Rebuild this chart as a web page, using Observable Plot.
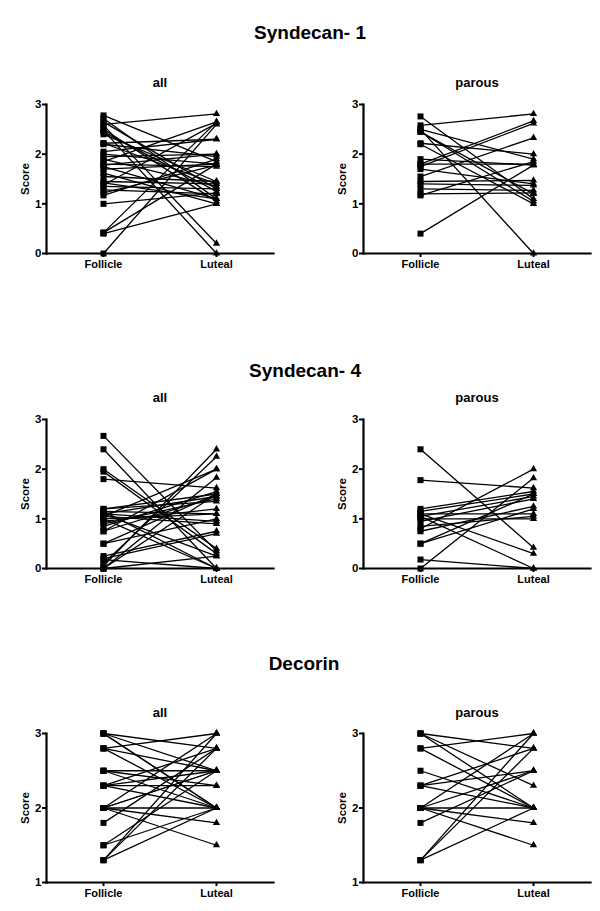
<!DOCTYPE html>
<html>
<head>
<meta charset="utf-8">
<script src="https://cdn.jsdelivr.net/npm/d3@7"></script>
<script src="https://cdn.jsdelivr.net/npm/@observablehq/plot@0.6"></script>
<style>
  html, body { margin: 0; padding: 0; background: #fff; }
  body { width: 600px; height: 911px; position: relative; overflow: hidden;
         font-family: "Liberation Sans", Arial, Helvetica, sans-serif; }
  .t { position: absolute; font-weight: bold; line-height: 1; white-space: nowrap; transform: translateX(-50%); color: #000; }
  .panel { position: absolute; }
  .panel svg { overflow: visible; }
</style>
</head>
<body>
<script>
// ---------- data ----------
const phases = ["Follicle", "Luteal"];
const rowTitles = ["Syndecan- 1", "Syndecan- 4", "Decorin"];
const groupTitles = ["all", "parous"];
const yLabel = "Score";
const ticks01 = [0, 1, 2, 3];
const ticksDecorin = [1, 2, 3];

// Syndecan-1, all
const syn1AllFollicle = [2.78, 2.72, 2.65, 2.60, 2.58, 2.50, 2.48, 2.45, 2.40, 2.22, 2.22, 2.20, 2.05, 2.00, 1.95, 1.90, 1.85, 1.80, 1.78, 1.75, 1.70, 1.62, 1.55, 1.45, 1.42, 1.38, 1.35, 1.28, 1.22, 1.17, 1.00, 0.42, 0.42, 0.40, 0.00];
const syn1AllLuteal   = [1.85, 1.10, 1.30, 2.81, 0.20, 1.05, 0.00, 1.25, 1.45, 2.30, 1.40, 1.95, 2.30, 1.80, 2.00, 1.35, 2.65, 1.75, 2.00, 1.10, 1.80, 1.00, 1.45, 1.40, 1.10, 2.62, 1.30, 1.20, 1.78, 1.90, 1.22, 2.65, 1.80, 1.00, 2.60];
// Syndecan-1, parous
const syn1ParFollicle = [2.76, 2.58, 2.50, 2.50, 2.45, 2.45, 2.22, 2.20, 1.80, 1.75, 1.90, 1.80, 1.70, 1.55, 1.45, 1.40, 1.30, 1.20, 1.17, 0.40];
const syn1ParLuteal   = [1.10, 2.81, 0.00, 1.90, 1.20, 1.05, 2.00, 1.00, 2.67, 2.62, 1.78, 1.80, 1.40, 2.33, 1.47, 1.37, 1.27, 1.22, 1.85, 1.78];
// Syndecan-4, all
const syn4AllFollicle = [2.67, 2.40, 2.00, 1.95, 1.80, 1.20, 1.15, 1.10, 1.10, 1.05, 1.00, 1.00, 0.95, 0.90, 0.85, 0.75, 0.75, 0.50, 0.50, 0.25, 0.18, 0.10, 0.05, 0.00, 0.00, 0.00, 1.10, 1.20, 1.05, 1.15, 0.20];
const syn4AllLuteal   = [0.35, 0.00, 0.40, 0.30, 1.62, 1.50, 0.00, 1.45, 0.25, 2.00, 1.10, 0.00, 1.20, 1.40, 1.55, 1.45, 2.00, 1.00, 1.50, 0.75, 0.00, 2.25, 2.40, 1.83, 1.50, 0.25, 0.95, 1.35, 0.90, 1.10, 0.70];
// Syndecan-4, parous
const syn4ParFollicle = [2.40, 1.78, 1.20, 1.15, 1.10, 1.10, 1.05, 1.05, 1.00, 0.95, 0.80, 0.75, 0.50, 0.50, 0.18, 0.00, 0.85];
const syn4ParLuteal   = [0.42, 1.62, 1.55, 1.50, 0.30, 1.10, 0.00, 1.45, 1.00, 1.40, 2.00, 1.25, 1.20, 1.50, 0.00, 1.82, 1.05];
// Decorin, all
const decAllFollicle = [3.0, 3.0, 3.0, 3.0, 2.8, 2.8, 2.8, 2.5, 2.5, 2.5, 2.3, 2.3, 2.3, 2.3, 2.0, 2.0, 2.0, 2.0, 2.0, 2.0, 1.8, 1.5, 1.5, 1.3, 1.3, 1.3];
const decAllLuteal   = [2.0, 2.5, 2.8, 2.0, 3.0, 2.5, 2.0, 2.5, 2.0, 2.3, 2.8, 2.3, 2.5, 2.0, 2.0, 3.0, 2.5, 1.8, 1.5, 2.5, 2.8, 2.5, 2.0, 3.0, 2.0, 2.8];
// Decorin, parous
const decParFollicle = [3.0, 3.0, 3.0, 2.8, 2.8, 2.5, 2.3, 2.3, 2.3, 2.0, 2.0, 2.0, 2.0, 2.0, 1.8, 1.3, 1.3, 1.3];
const decParLuteal   = [2.8, 2.0, 2.3, 3.0, 2.0, 2.0, 2.5, 2.8, 2.0, 2.0, 2.5, 1.8, 1.5, 3.0, 2.5, 2.8, 2.0, 3.0];

// ---------- layout ----------
const rows = [
  { title: rowTitles[0], titleX: 310, titleBase: 39, subBase: 87,  plotTop: 104, domain: [0, 3], ticks: ticks01,
    panels: [[syn1AllFollicle, syn1AllLuteal], [syn1ParFollicle, syn1ParLuteal]] },
  { title: rowTitles[1], titleX: 305, titleBase: 377, subBase: 402, plotTop: 419, domain: [0, 3], ticks: ticks01,
    panels: [[syn4AllFollicle, syn4AllLuteal], [syn4ParFollicle, syn4ParLuteal]] },
  { title: rowTitles[2], titleX: 304, titleBase: 670, subBase: 717, plotTop: 733, domain: [1, 3], ticks: ticksDecorin,
    panels: [[decAllFollicle, decAllLuteal], [decParFollicle, decParLuteal]] }
];
const plotH = 149;
const mTop = 10, mBottom = 32;
const colLayout = [
  { left: 0,   marginLeft: 46, marginRight: 27, subX: 160 },
  { left: 300, marginLeft: 63, marginRight: 10, subX: 477 }
];

function addText(txt, cx, baseline, size) {
  const d = document.createElement("div");
  d.className = "t";
  d.textContent = txt;
  d.style.fontSize = size + "px";
  d.style.left = cx + "px";
  d.style.top = (baseline - 0.846 * size) + "px";
  document.body.appendChild(d);
}

rows.forEach(row => {
  addText(row.title, row.titleX, row.titleBase, 19);
  row.panels.forEach(([fol, lut], ci) => {
    const col = colLayout[ci];
    addText(groupTitles[ci], col.subX, row.subBase, 13);
    const data = [];
    fol.forEach((v, i) => {
      data.push({ id: i, phase: phases[0], score: v });
      data.push({ id: i, phase: phases[1], score: lut[i] });
    });
    const chart = Plot.plot({
      width: 300,
      height: plotH + mTop + mBottom,
      marginTop: mTop,
      marginBottom: mBottom,
      marginLeft: col.marginLeft,
      marginRight: col.marginRight,
      style: { fontFamily: "'Liberation Sans', Arial, sans-serif", fontSize: "11px", fontWeight: "bold", color: "#000", background: "transparent", overflow: "visible" },
      x: { type: "point", domain: phases, padding: 0.5 },
      y: { domain: row.domain },
      marks: [
        Plot.line(data, { x: "phase", y: "score", z: "id", stroke: "#000", strokeWidth: 1.3 }),
        Plot.dot(data.filter(d => d.phase === phases[0]), { x: "phase", y: "score", symbol: "square", r: 3.4, fill: "#000", stroke: "none" }),
        Plot.dot(data.filter(d => d.phase === phases[1]), { x: "phase", y: "score", symbol: "triangle", r: 2.7, fill: "#000", stroke: "none" }),
        Plot.axisY({ ticks: row.ticks, tickFormat: d3.format("d"), tickSize: 4, tickPadding: 1, strokeWidth: 2, fill: "#000",
                     label: yLabel, labelAnchor: "center", labelArrow: "none", labelOffset: 26, fontSize: 11.5, fontWeight: "bold" }),
        Plot.axisX({ tickSize: 4, tickPadding: 3, strokeWidth: 2, fill: "#000", label: null, fontSize: 11, fontWeight: "bold" }),
        Plot.frame({ anchor: "left", stroke: "#000", strokeWidth: 2.2 }),
        Plot.frame({ anchor: "bottom", stroke: "#000", strokeWidth: 2.2 })
      ]
    });
    const wrap = document.createElement("div");
    wrap.className = "panel";
    wrap.style.left = col.left + "px";
    wrap.style.top = (row.plotTop - mTop) + "px";
    wrap.appendChild(chart);
    document.body.appendChild(wrap);
  });
});
</script>
</body>
</html>
